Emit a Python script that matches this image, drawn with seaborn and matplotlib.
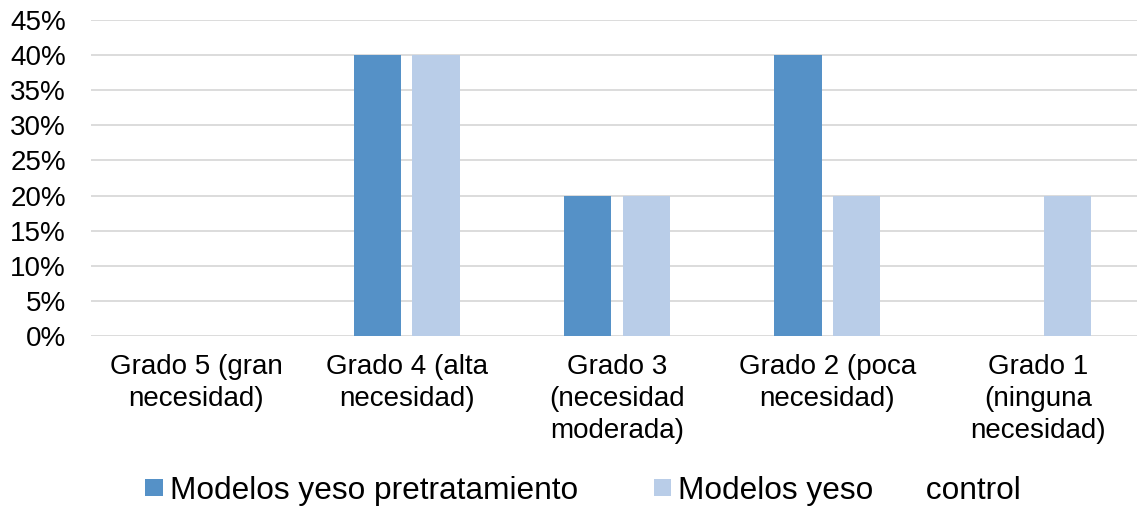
import matplotlib
matplotlib.use('Agg')
import matplotlib.pyplot as plt
import seaborn as sns
import pandas as pd
from matplotlib.ticker import PercentFormatter, MultipleLocator

# datos
categorias = ['Grado 5 (gran\nnecesidad)', 'Grado 4 (alta\nnecesidad)',
              'Grado 3\n(necesidad\nmoderada)', 'Grado 2 (poca\nnecesidad)',
              'Grado 1\n(ninguna\nnecesidad)']
series = ['Modelos yeso pretratamiento', 'Modelos yeso      control']
pretratamiento = [0.00, 0.40, 0.20, 0.40, 0.00]
control = [0.00, 0.40, 0.20, 0.20, 0.20]
colores = ['#5591C7', '#B9CDE8']

df = pd.DataFrame({
    'categoria': categorias * 2,
    'serie': [series[0]] * len(categorias) + [series[1]] * len(categorias),
    'valor': pretratamiento + control,
})

sns.set_style('white')
plt.rcParams['font.family'] = ['Liberation Sans', 'DejaVu Sans']

fig = plt.figure(figsize=(11.37, 5.12), dpi=100)
ax = fig.add_axes([0.0800, 0.34375, 0.9253, 0.6172])

sns.barplot(data=df, x='categoria', y='valor', hue='serie', order=categorias,
            hue_order=series, palette=colores, width=0.56, gap=0.2,
            saturation=1, linewidth=0, ax=ax, zorder=3)

ax.set_ylim(0, 0.45)
ax.set_xlim(-0.5, len(categorias) - 0.5)
ax.yaxis.set_major_locator(MultipleLocator(0.05))
ax.yaxis.set_major_formatter(PercentFormatter(1.0, decimals=0))
ax.grid(axis='y', color='#D9D9D9', linewidth=1.3, zorder=0)
ax.set_axisbelow(True)
for s in ax.spines.values():
    s.set_visible(False)

ax.set_xlabel('')
ax.set_ylabel('')
ax.tick_params(axis='y', length=0, pad=18, labelsize=20, labelcolor='black')
ax.tick_params(axis='x', length=0, pad=13, labelsize=20, labelcolor='black')
for lbl in ax.get_xticklabels():
    lbl.set_linespacing(1.3)

handles, labels = ax.get_legend_handles_labels()
ax.get_legend().remove()
fig.legend(handles, labels, loc='center', bbox_to_anchor=(0.513, 0.041),
           ncol=2, frameon=False, fontsize=22.8, handlelength=0.55,
           handleheight=0.47, handletextpad=0.22, columnspacing=2.4,
           borderaxespad=0, borderpad=0, labelcolor='black')

fig.savefig('out.png', dpi=100)
